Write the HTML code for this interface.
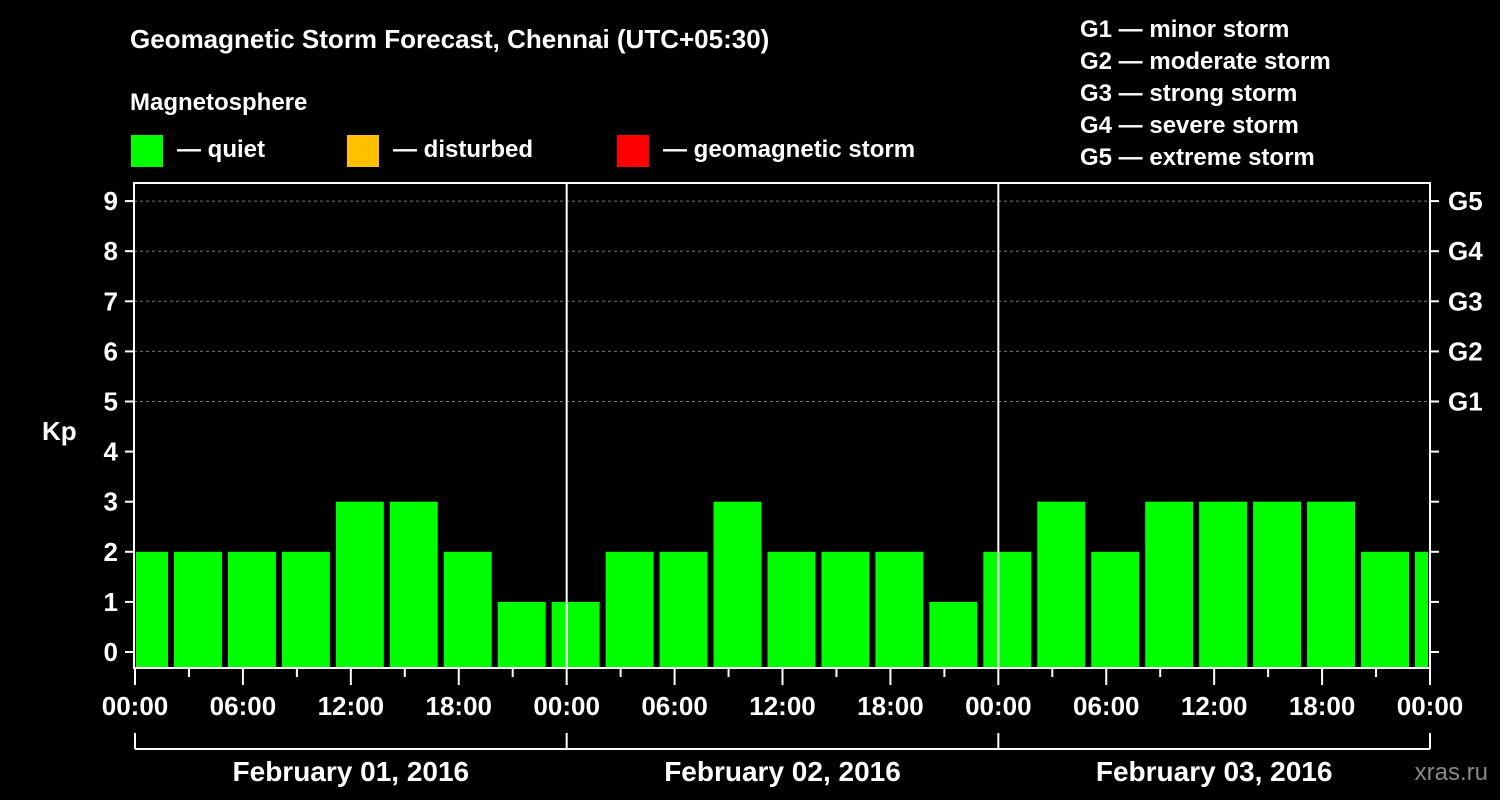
<!DOCTYPE html>
<html><head><meta charset="utf-8"><style>
body{margin:0;background:#000;}
svg{display:block;font-family:"Liberation Sans",Arial,sans-serif;font-weight:bold;}
</style></head><body>
<svg width="1500" height="800" viewBox="0 0 1500 800">
<rect width="1500" height="800" fill="#000"/>
<text x="130" y="48" fill="#fff" font-size="26">Geomagnetic Storm Forecast, Chennai (UTC+05:30)</text>
<text x="130" y="110" fill="#fff" font-size="24">Magnetosphere</text>
<g>
<rect x="131" y="135" width="32" height="32" fill="#00ff00"/>
<text x="177" y="157" fill="#fff" font-size="24">— quiet</text>
<rect x="347" y="135" width="32" height="32" fill="#ffc000"/>
<text x="393" y="157" fill="#fff" font-size="24">— disturbed</text>
<rect x="617" y="135" width="32" height="32" fill="#ff0000"/>
<text x="663" y="157" fill="#fff" font-size="24">— geomagnetic storm</text>
</g>
<g fill="#fff" font-size="24">
<text x="1080" y="37">G1 — minor storm</text>
<text x="1080" y="69">G2 — moderate storm</text>
<text x="1080" y="101">G3 — strong storm</text>
<text x="1080" y="133">G4 — severe storm</text>
<text x="1080" y="165">G5 — extreme storm</text>
</g>
<text x="42" y="440" fill="#fff" font-size="26">Kp</text>
<text x="1488" y="780" fill="#888" font-size="24" text-anchor="end" font-weight="normal">xras.ru</text>
<g id="chart"></g>
</svg>
<script>
const kpValues=[2,2,2,2,3,3,2,1,1,2,2,3,2,2,2,1,2,3,2,3,3,3,3,2,2];
const slotStartHour=-1;
const yTicks=[0,1,2,3,4,5,6,7,8,9];
const gLabels=["G1","G2","G3","G4","G5"];
const gLevels=[5,6,7,8,9];
const xTickLabels=["00:00","06:00","12:00","18:00","00:00","06:00","12:00","18:00","00:00","06:00","12:00","18:00","00:00"];
const dayLabels=["February 01, 2016","February 02, 2016","February 03, 2016"];

const L=134,R=1430,T=183,B=668;
const xs=h=>L+1+(R-L-1)*h/72;
const ys=v=>652-v*50.1;
const NS="http://www.w3.org/2000/svg";
const g=document.getElementById('chart');
function mk(t,a,p){const e=document.createElementNS(NS,t);for(const k in a)e.setAttribute(k,a[k]);(p||g).appendChild(e);return e;}

// grid
yTicks.forEach(v=>{if(v>=5){const e=mk('line',{x1:L,x2:R,y1:ys(v),y2:ys(v),stroke:'#777','stroke-dasharray':'3,3','stroke-width':1});

}});
// bars
kpValues.forEach((v,i)=>{
 const h0=slotStartHour+3*i;
 let x0=xs(h0)+3,x1=xs(h0+3)-3;
 x0=Math.max(x0,L+2);x1=Math.min(x1,R-2);
 const y=ys(v);
 const r=mk('rect',{x:x0,y:y,width:x1-x0,height:B-y,fill:'#00ff00'});
 
 
});
// day separators
[1,2].forEach(d=>{const e=mk('line',{x1:xs(24*d),x2:xs(24*d),y1:T,y2:B,stroke:'#fff','stroke-width':2});

});
// frame
const fr=mk('rect',{x:L,y:T,width:R-L,height:B-T,fill:'none',stroke:'#fff','stroke-width':2});


// y ticks
yTicks.forEach(v=>{
 mk('line',{x1:L-9,x2:L,y1:ys(v),y2:ys(v),stroke:'#fff','stroke-width':2});
 mk('line',{x1:R,x2:R+9,y1:ys(v),y2:ys(v),stroke:'#fff','stroke-width':2});
 const t=mk('text',{x:L-16,y:ys(v)+9,fill:'#fff','font-size':26,'text-anchor':'end'});
 t.textContent=v;
 
 
});
gLevels.forEach((v,i)=>{
 const t=mk('text',{x:1448,y:ys(v)+9,fill:'#fff','font-size':26});
 t.textContent=gLabels[i];
 
 
});
// x ticks
for(let h=0;h<=72;h+=3){
 const major=h%6===0;
 mk('line',{x1:xs(h),x2:xs(h),y1:B,y2:B+(major?17:9),stroke:'#fff','stroke-width':2});
}
xTickLabels.forEach((s,i)=>{
 const t=mk('text',{x:xs(6*i),y:715,fill:'#fff','font-size':26,'text-anchor':'middle'});
 t.textContent=s;
 
 
});
// day brackets
mk('line',{x1:xs(0),x2:xs(72),y1:749,y2:749,stroke:'#fff','stroke-width':2});
for(let d=0;d<=3;d++)mk('line',{x1:xs(24*d),x2:xs(24*d),y1:733,y2:749,stroke:'#fff','stroke-width':2});
dayLabels.forEach((s,i)=>{
 const t=mk('text',{x:xs(24*i+12),y:781,fill:'#fff','font-size':28,'text-anchor':'middle'});
 t.textContent=s;
 
 
});
</script>
</body></html>
